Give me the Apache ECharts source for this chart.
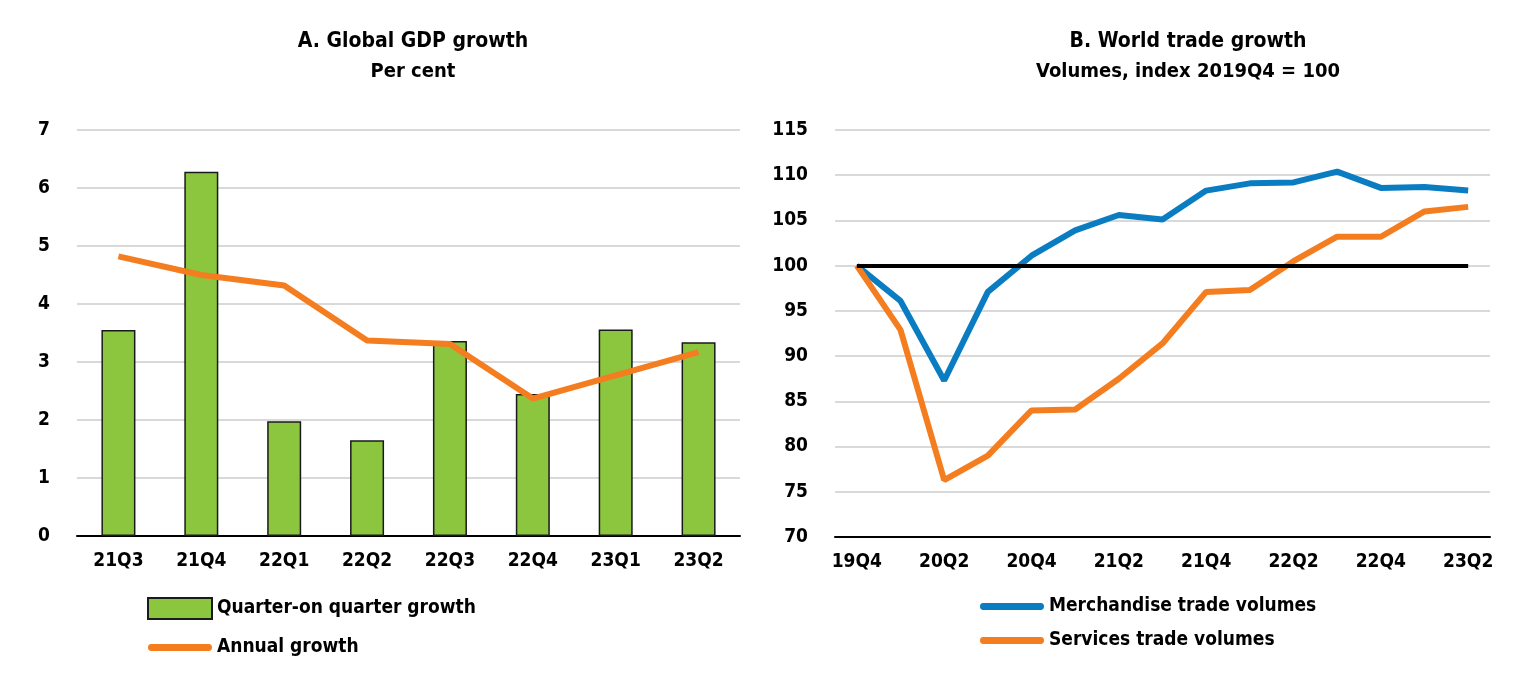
<!DOCTYPE html>
<html>
<head>
<meta charset="utf-8">
<script src="https://cdn.jsdelivr.net/npm/echarts@6/dist/echarts.min.js"></script>
<style>
html, body { margin: 0; padding: 0; background: #fff; }
#main { width: 1517px; height: 674px; }
</style>
</head>
<body>
<div id="main"></div>
<script>
// Panel A: global GDP growth, per cent
var gdpQuarters = ['21Q3', '21Q4', '22Q1', '22Q2', '22Q3', '22Q4', '23Q1', '23Q2'];
var qoqGrowth = [3.55, 6.28, 1.98, 1.65, 3.36, 2.45, 3.56, 3.34];
var annualGrowth = [4.82, 4.5, 4.32, 3.37, 3.31, 2.37, 2.77, 3.17];

// Panel B: world trade volumes, index 2019Q4 = 100
var tradeQuarters = ['19Q4', '20Q1', '20Q2', '20Q3', '20Q4', '21Q1', '21Q2', '21Q3',
    '21Q4', '22Q1', '22Q2', '22Q3', '22Q4', '23Q1', '23Q2'];
var merchandise = [100, 96.1, 87.3, 97.1, 101.1, 103.9, 105.6, 105.1, 108.3, 109.1, 109.2, 110.4, 108.6, 108.7, 108.3];
var services = [100, 92.9, 76.3, 79, 84, 84.1, 87.5, 91.4, 97.1, 97.3, 100.5, 103.2, 103.2, 106, 106.5];
var baseLevel = 100;

var FONT = '"Liberation Sans Narrow", "Arial Narrow", "DejaVu Sans Condensed", sans-serif';
var green = '#8cc63f', orange = '#f47d20', blue = '#0a7dc2';
// thin bar used as legend key for the lines
var lineKey = 'path://M3,0 H61 A3,3 0 0 1 61,7 H3 A3,3 0 0 1 3,0 Z';

var myChart = echarts.init(document.getElementById('main'));

var txt = { fontFamily: FONT, fontWeight: 'bold', color: '#000' };

var option = {
    backgroundColor: '#fff',
    animation: false,
    textStyle: { fontFamily: FONT },
    title: [
        {
            text: 'A. Global GDP growth', subtext: 'Per cent',
            left: 408, top: 26, textAlign: 'center', itemGap: 10,
            textStyle: { fontFamily: FONT, fontWeight: 'bold', fontSize: 21, color: '#000' },
            subtextStyle: { fontFamily: FONT, fontWeight: 'bold', fontSize: 20, color: '#000' }
        },
        {
            text: 'B. World trade growth', subtext: 'Volumes, index 2019Q4 = 100',
            left: 1183, top: 26, textAlign: 'center', itemGap: 10,
            textStyle: { fontFamily: FONT, fontWeight: 'bold', fontSize: 21, color: '#000' },
            subtextStyle: { fontFamily: FONT, fontWeight: 'bold', fontSize: 20, color: '#000' }
        }
    ],
    legend: [
        {
            data: [
                { name: 'Quarter-on quarter growth', icon: 'rect' },
                { name: 'Annual growth', icon: lineKey }
            ],
            orient: 'vertical', left: 142, top: 592,
            itemWidth: 64, itemHeight: 21, itemGap: 18,
            textStyle: { fontFamily: FONT, fontWeight: 'bold', fontSize: 19, color: '#000' }
        },
        {
            data: [
                { name: 'Merchandise trade volumes', icon: lineKey },
                { name: 'Services trade volumes', icon: lineKey }
            ],
            orient: 'vertical', left: 975, top: 592,
            itemWidth: 64, itemHeight: 21, itemGap: 15,
            textStyle: { fontFamily: FONT, fontWeight: 'bold', fontSize: 19, color: '#000' }
        }
    ],
    grid: [
        { left: 77, width: 663, top: 130, height: 406 },
        { left: 835, width: 655, top: 130, height: 407 }
    ],
    xAxis: [
        {
            type: 'category', gridIndex: 0, data: gdpQuarters,
            axisLine: { lineStyle: { color: '#000', width: 2 } },
            axisTick: { inside: true, length: 9, lineStyle: { color: '#000', width: 2 } },
            axisLabel: Object.assign({ fontSize: 19, margin: 16 }, txt)
        },
        {
            type: 'category', gridIndex: 1, data: tradeQuarters,
            axisLine: { lineStyle: { color: '#000', width: 2 } },
            axisTick: { inside: true, length: 9, interval: 0, lineStyle: { color: '#000', width: 2 } },
            axisLabel: Object.assign({ fontSize: 19, margin: 16, interval: 1 }, txt)
        }
    ],
    yAxis: [
        {
            type: 'value', gridIndex: 0, min: 0, max: 7, interval: 1,
            axisLine: { show: false }, axisTick: { show: false },
            splitLine: { lineStyle: { color: '#d9d9d9', width: 2 } },
            axisLabel: Object.assign({ fontSize: 19, margin: 27 }, txt)
        },
        {
            type: 'value', gridIndex: 1, min: 70, max: 115, interval: 5,
            axisLine: { show: false }, axisTick: { show: false },
            splitLine: { lineStyle: { color: '#d9d9d9', width: 2 } },
            axisLabel: Object.assign({ fontSize: 19, margin: 27 }, txt)
        }
    ],
    series: [
        {
            name: 'Quarter-on quarter growth', type: 'bar',
            xAxisIndex: 0, yAxisIndex: 0,
            data: qoqGrowth, barWidth: 34,
            itemStyle: { color: green, borderColor: '#1a1a1a', borderWidth: 1.5 }
        },
        {
            name: 'Annual growth', type: 'line',
            xAxisIndex: 0, yAxisIndex: 0,
            data: annualGrowth, symbol: 'none',
            lineStyle: { color: orange, width: 6 },
            itemStyle: { color: orange }
        },
        {
            name: 'Merchandise trade volumes', type: 'line',
            xAxisIndex: 1, yAxisIndex: 1,
            data: merchandise, symbol: 'none',
            lineStyle: { color: blue, width: 6 },
            itemStyle: { color: blue }
        },
        {
            name: 'Services trade volumes', type: 'line',
            xAxisIndex: 1, yAxisIndex: 1,
            data: services, symbol: 'none',
            lineStyle: { color: orange, width: 6 },
            itemStyle: { color: orange },
            // reference level at 100, from first to last quarter
            markLine: {
                silent: true, symbol: 'none',
                label: { show: false },
                lineStyle: { color: '#000', width: 4, type: 'solid' },
                data: [[
                    { coord: [tradeQuarters[0], baseLevel] },
                    { coord: [tradeQuarters[tradeQuarters.length - 1], baseLevel] }
                ]]
            }
        }
    ]
};

myChart.setOption(option);
</script>
</body>
</html>
